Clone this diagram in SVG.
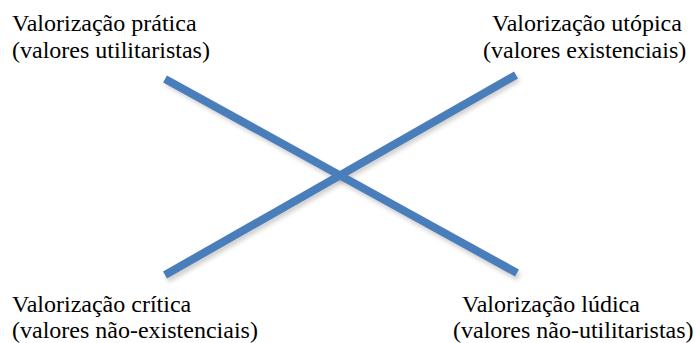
<svg xmlns="http://www.w3.org/2000/svg" width="700" height="343" viewBox="0 0 700 343">
<defs>
<style>
.t{font-family:"Liberation Serif","Times New Roman",serif;font-size:24px;fill:#000}
.ln{stroke:#4a7ebb;stroke-width:8;fill:none}
.sh{stroke:#000;stroke-opacity:0.18;stroke-width:8;fill:none}
</style>
<filter id="blur" x="-10%" y="-10%" width="120%" height="120%"><feGaussianBlur stdDeviation="2"/></filter>
</defs>
<rect width="700" height="343" fill="#fff"/>
<g id="connectors">
<g filter="url(#blur)">
<line class="sh" x1="167" y1="82" x2="519" y2="277"/>
<line class="sh" x1="167" y1="279" x2="518" y2="78"/>
</g>
<line class="ln" x1="165" y1="79" x2="517" y2="273"/>
<line class="ln" x1="165" y1="275" x2="516" y2="75"/>
</g>
<g id="pratica"><text class="t" x="12" y="31">Valorização prática</text><text class="t" x="12" y="58">(valores utilitaristas)</text></g>
<g id="utopica"><text class="t" x="492" y="31">Valorização utópica</text><text class="t" x="483" y="58">(valores existenciais)</text></g>
<g id="critica"><text class="t" x="12" y="312">Valorização crítica</text><text class="t" x="12" y="338">(valores não-existenciais)</text></g>
<g id="ludica"><text class="t" x="462" y="312">Valorização lúdica</text><text class="t" x="453" y="338">(valores não-utilitaristas)</text></g>
</svg>
